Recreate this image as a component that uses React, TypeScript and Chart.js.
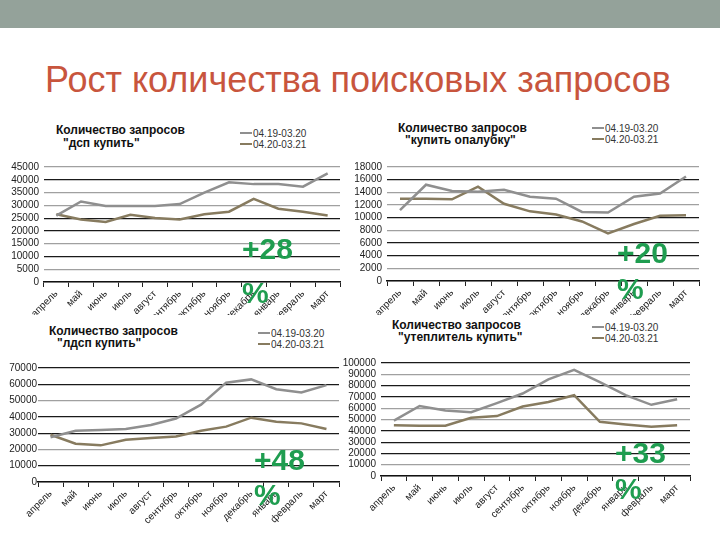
import React, { useEffect, useRef } from "react";
import { Chart, registerables } from "chart.js";

Chart.register(...registerables);

const MONTHS = ["апрель", "май", "июнь", "июль", "август", "сентябрь", "октябрь", "ноябрь", "декабрь", "январь", "февраль", "март"];
const SERIES_LABELS = ["04.19-03.20", "04.20-03.21"];

const dspPrev = [26000, 31500, 29700, 29700, 29700, 30500, 35000, 39000, 38300, 38300, 37300, 42500];
const dspCurr = [26500, 24500, 23500, 26300, 25000, 24500, 26500, 27500, 32500, 28700, 27500, 26000];
const opalPrev = [11200, 15200, 14200, 14100, 14400, 13300, 13000, 10900, 10800, 13300, 13800, 16500];
const opalCurr = [13000, 13000, 12900, 14900, 12200, 11000, 10500, 9400, 7500, 9000, 10300, 10400];
const ldspPrev = [27500, 31500, 32000, 32500, 35000, 39000, 47500, 61000, 63000, 57000, 55000, 59500];
const ldspCurr = [29000, 23500, 22500, 26000, 27000, 28000, 31500, 34000, 39500, 37000, 36000, 32500];
const utepPrev = [49000, 62000, 58000, 56500, 64500, 73000, 85500, 94000, 83000, 71500, 63000, 68000];
const utepCurr = [45000, 44500, 44500, 51500, 53000, 61500, 65500, 71500, 48000, 45500, 43500, 45000];

const MAIN_TITLE = "Рост количества поисковых запросов";
const CHART_TITLE = "Количество запросов";
const QUERIES = ['"дсп купить"', '"купить опалубку"', '"лдсп купить"', '"утеплитель купить"'];
const GROWTH = ["+28 %", "+20 %", "+48 %", "+33 %"];

const PREV_COLOR = "#8f8f8f";
const CURR_COLOR = "#877b5f";
const GREEN = "#1f9d50";
const FONT = "'Liberation Sans', Arial, sans-serif";

type Cfg = {
  left: number; top: number; width: number; height: number;
  yWidth: number; xHeight: number; padTop: number; padRight: number;
  max: number; step: number; dark: number[]; tickPad: number;
  prev: number[]; curr: number[];
};

const CHARTS: Cfg[] = [
  { left: 0, top: 150, width: 345, height: 165, yWidth: 44, xHeight: 33, padTop: 17, padRight: 5, max: 45000, step: 5000, dark: [40000, 25000, 20000, 10000], tickPad: 5, prev: dspPrev, curr: dspCurr },
  { left: 345, top: 150, width: 375, height: 165, yWidth: 42, xHeight: 34, padTop: 17, padRight: 21, max: 18000, step: 2000, dark: [16000, 10000, 6000, 4000], tickPad: 5, prev: opalPrev, curr: opalCurr },
  { left: 0, top: 352, width: 340, height: 188, yWidth: 38, xHeight: 58, padTop: 16, padRight: 1, max: 70000, step: 10000, dark: [70000, 60000, 40000, 30000, 10000], tickPad: 1, prev: ldspPrev, curr: ldspCurr },
  { left: 340, top: 348, width: 380, height: 192, yWidth: 41, xHeight: 64, padTop: 15, padRight: 30, max: 100000, step: 10000, dark: [100000, 80000, 70000, 40000, 30000, 20000], tickPad: 5, prev: utepPrev, curr: utepCurr },
];

const TITLES = [
  { left: 56, top: 124, lh: 12.5, indent: 7 },
  { left: 398, top: 123, lh: 11.5, indent: 7 },
  { left: 49, top: 325, lh: 12, indent: 8 },
  { left: 392, top: 320, lh: 11.7, indent: 6 },
];

const LEGENDS = [
  { left: 240, y1: 133, y2: 144 },
  { left: 592, y1: 128, y2: 139 },
  { left: 258, y1: 333, y2: 344 },
  { left: 592, y1: 327, y2: 338 },
];

const BADGES = [
  { left: 242, top: 227, lh: 44 },
  { left: 617, top: 235, lh: 36 },
  { left: 254, top: 442, lh: 35 },
  { left: 615, top: 435, lh: 36 },
];

function LineChart({ cfg }: { cfg: Cfg }) {
  const ref = useRef<HTMLCanvasElement | null>(null);
  useEffect(() => {
    if (!ref.current) return;
    const chart = new Chart(ref.current, {
      type: "line",
      data: {
        labels: MONTHS,
        datasets: [
          { label: SERIES_LABELS[0], data: cfg.prev, borderColor: PREV_COLOR, borderWidth: 2.5, pointRadius: 0, tension: 0, fill: false },
          { label: SERIES_LABELS[1], data: cfg.curr, borderColor: CURR_COLOR, borderWidth: 2.5, pointRadius: 0, tension: 0, fill: false },
        ],
      },
      options: {
        animation: false,
        responsive: false,
        maintainAspectRatio: false,
        layout: { padding: { top: cfg.padTop, right: cfg.padRight, left: 0, bottom: 0 } },
        plugins: { legend: { display: false }, title: { display: false }, tooltip: { enabled: false } },
        scales: {
          x: {
            offset: true,
            grid: { display: true, offset: true, drawOnChartArea: false, drawTicks: true, tickLength: 5, color: "#222" },
            border: { display: true, color: "#111", width: 1.5 },
            ticks: { color: "#222", font: { family: FONT, size: 10 }, maxRotation: 45, minRotation: 45, autoSkip: false, padding: 1 },
            afterFit: (s: any) => { s.height = cfg.xHeight; },
          },
          y: {
            min: 0,
            max: cfg.max,
            grid: {
              drawTicks: false,
              color: (c: any) => (cfg.dark.includes(c.tick?.value) ? "#1a1a1a" : "#a0a0a0"),
              lineWidth: 1.2,
            },
            border: { display: false },
            ticks: {
              stepSize: cfg.step,
              autoSkip: false,
              color: "#222",
              font: { family: FONT, size: 10 },
              padding: cfg.tickPad,
              callback: (v: any) => String(v),
            },
            afterFit: (s: any) => { s.width = cfg.yWidth; },
          },
        },
      },
    } as any);
    return () => chart.destroy();
  }, [cfg]);
  return (
    <canvas
      ref={ref}
      width={cfg.width}
      height={cfg.height}
      style={{ position: "absolute", left: cfg.left, top: cfg.top, width: cfg.width, height: cfg.height }}
    />
  );
}

export default function App() {
  return (
    <div style={{ position: "absolute", left: 0, top: 0, width: 720, height: 540, background: "#fff", overflow: "hidden", fontFamily: FONT }}>
      <div style={{ position: "absolute", left: 0, top: 0, width: 720, height: 28, background: "#94a29a" }} />
      <div style={{ position: "absolute", left: 45, top: 60, fontSize: 36, lineHeight: "40px", color: "#c8553d", whiteSpace: "nowrap" }}>
        {MAIN_TITLE}
      </div>
      {CHARTS.map((c, i) => (
        <LineChart key={i} cfg={c} />
      ))}
      {TITLES.map((t, i) => (
        <div key={"t" + i} style={{ position: "absolute", left: t.left, top: t.top, fontSize: 12, fontWeight: "bold", lineHeight: t.lh + "px", color: "#111", whiteSpace: "nowrap" }}>
          <div>{CHART_TITLE}</div>
          <div style={{ paddingLeft: t.indent }}>{QUERIES[i]}</div>
        </div>
      ))}
      {LEGENDS.map((l, i) => (
        <React.Fragment key={"l" + i}>
          {[l.y1, l.y2].map((y, j) => (
            <div key={j} style={{ position: "absolute", left: l.left, top: y - 6, height: 12, display: "flex", alignItems: "center", fontSize: 10, color: "#333", whiteSpace: "nowrap" }}>
              <span style={{ display: "inline-block", width: 12, height: 2.5, background: j === 0 ? PREV_COLOR : CURR_COLOR, marginRight: 1 }} />
              <span>{SERIES_LABELS[j]}</span>
            </div>
          ))}
        </React.Fragment>
      ))}
      {BADGES.map((b, i) => (
        <div key={"b" + i} style={{ position: "absolute", left: b.left, top: b.top, width: 62, fontSize: 30, fontWeight: "bold", lineHeight: b.lh + "px", color: GREEN }}>
          {GROWTH[i]}
        </div>
      ))}
    </div>
  );
}
